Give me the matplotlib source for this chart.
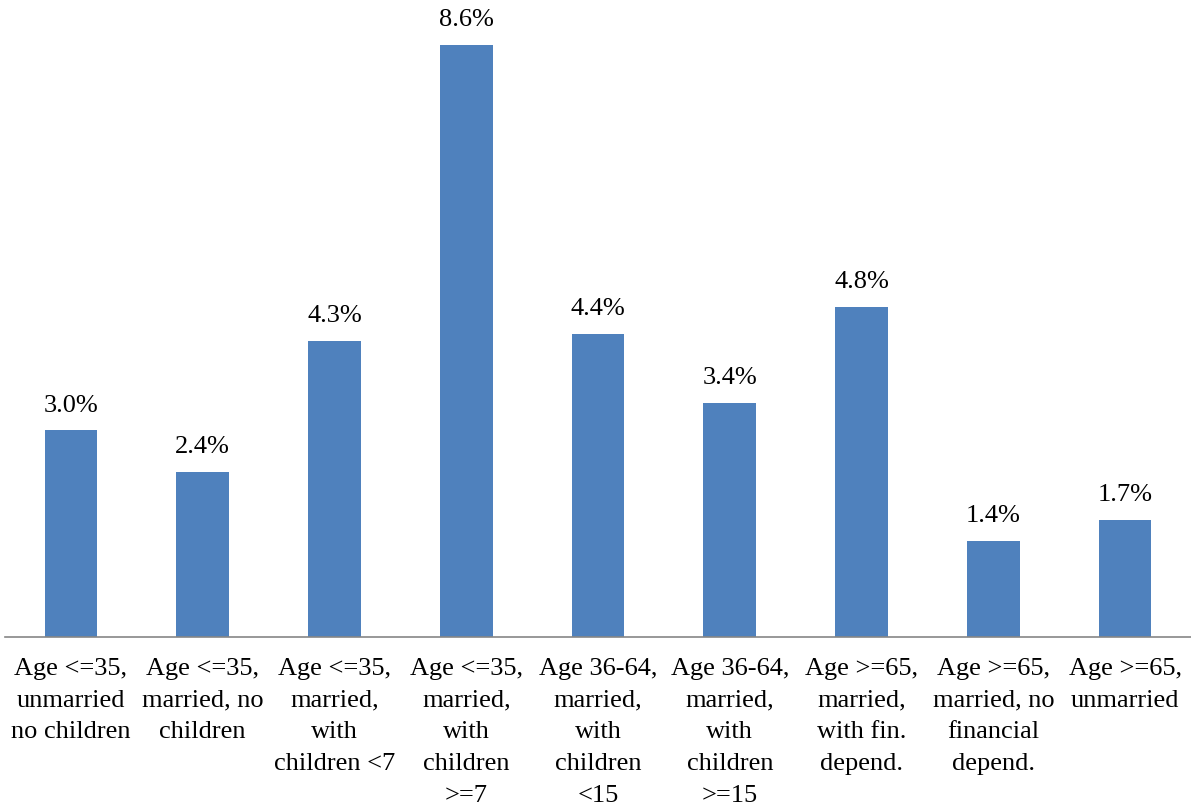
import matplotlib.pyplot as plt

categories = [
    "Age <=35,\nunmarried\nno children",
    "Age <=35,\nmarried, no\nchildren",
    "Age <=35,\nmarried,\nwith\nchildren <7",
    "Age <=35,\nmarried,\nwith\nchildren\n>=7",
    "Age 36-64,\nmarried,\nwith\nchildren\n<15",
    "Age 36-64,\nmarried,\nwith\nchildren\n>=15",
    "Age >=65,\nmarried,\nwith fin.\ndepend.",
    "Age >=65,\nmarried, no\nfinancial\ndepend.",
    "Age >=65,\nunmarried",
]
values = [3.0, 2.4, 4.3, 8.6, 4.4, 3.4, 4.8, 1.4, 1.7]

plt.rcParams['font.family'] = ['Liberation Serif', 'DejaVu Serif']

fig = plt.figure(figsize=(11.91, 8.08), dpi=100)
ax = fig.add_axes([5 / 1191, 171 / 808, 1186 / 1191, 620 / 808])

xs = range(len(values))
bars = ax.bar(xs, values, width=0.4, color="#4F81BD")
for x, v in zip(xs, values):
    ax.text(x, v + 0.2, f"{v:.1f}%", ha="center", va="bottom", fontsize=19)

ax.set_xlim(-0.5, len(values) - 0.5)
ax.set_ylim(0, 620 / 68.84)
ax.set_xticks(list(xs))
ax.set_xticklabels(categories, fontsize=19, linespacing=1.57)
ax.tick_params(axis="x", length=0, pad=15)
ax.set_yticks([])
for s in ["top", "right", "left"]:
    ax.spines[s].set_visible(False)
ax.spines["bottom"].set_color("#868686")
ax.spines["bottom"].set_linewidth(1.2)

plt.savefig("out.png", dpi=100)
